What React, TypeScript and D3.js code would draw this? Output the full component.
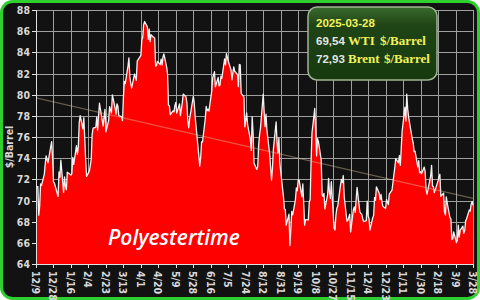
import React from "react";
import * as d3 from "d3";

// WTI daily close, $/barrel
const wtiSeries: [string, number][] = [
  ["2023-12-08", 71.23], ["2023-12-11", 71.32], ["2023-12-12", 68.61], ["2023-12-13", 69.47], ["2023-12-14", 71.58],
  ["2023-12-15", 71.43], ["2023-12-18", 72.47], ["2023-12-19", 73.44], ["2023-12-20", 74.22], ["2023-12-21", 73.89],
  ["2023-12-22", 73.56], ["2023-12-26", 75.57], ["2023-12-27", 74.11], ["2023-12-28", 71.77], ["2023-12-29", 71.65],
  ["2024-01-02", 70.38], ["2024-01-03", 72.70], ["2024-01-04", 72.19], ["2024-01-05", 73.81], ["2024-01-08", 70.77],
  ["2024-01-09", 72.24], ["2024-01-10", 71.37], ["2024-01-11", 71.02], ["2024-01-12", 72.68], ["2024-01-16", 72.40],
  ["2024-01-17", 72.56], ["2024-01-18", 74.08], ["2024-01-19", 73.41], ["2024-01-22", 75.19], ["2024-01-23", 74.37],
  ["2024-01-24", 75.09], ["2024-01-25", 77.36], ["2024-01-26", 78.01], ["2024-01-29", 76.78], ["2024-01-30", 77.82],
  ["2024-01-31", 75.85], ["2024-02-01", 73.82], ["2024-02-02", 72.28], ["2024-02-05", 72.78], ["2024-02-06", 73.31],
  ["2024-02-07", 73.86], ["2024-02-08", 76.22], ["2024-02-09", 76.84], ["2024-02-12", 76.92], ["2024-02-13", 77.87],
  ["2024-02-14", 76.64], ["2024-02-15", 78.03], ["2024-02-16", 79.19], ["2024-02-20", 77.04], ["2024-02-21", 77.91],
  ["2024-02-22", 78.61], ["2024-02-23", 76.49], ["2024-02-26", 77.58], ["2024-02-27", 78.87], ["2024-02-28", 78.54],
  ["2024-02-29", 78.26], ["2024-03-01", 79.97], ["2024-03-04", 78.74], ["2024-03-05", 78.15], ["2024-03-06", 79.13],
  ["2024-03-07", 78.93], ["2024-03-08", 78.01], ["2024-03-11", 77.93], ["2024-03-12", 77.56], ["2024-03-13", 79.72],
  ["2024-03-14", 81.26], ["2024-03-15", 81.04], ["2024-03-18", 82.72], ["2024-03-19", 83.47], ["2024-03-20", 81.68],
  ["2024-03-21", 81.07], ["2024-03-22", 80.63], ["2024-03-25", 81.95], ["2024-03-26", 81.62], ["2024-03-27", 81.35],
  ["2024-03-28", 83.17], ["2024-04-01", 83.71], ["2024-04-02", 85.15], ["2024-04-03", 85.43], ["2024-04-04", 86.59],
  ["2024-04-05", 86.91], ["2024-04-08", 86.43], ["2024-04-09", 85.23], ["2024-04-10", 86.21], ["2024-04-11", 85.02],
  ["2024-04-12", 85.66], ["2024-04-15", 85.41], ["2024-04-16", 85.36], ["2024-04-17", 82.69], ["2024-04-18", 82.73],
  ["2024-04-19", 83.14], ["2024-04-22", 82.85], ["2024-04-23", 83.36], ["2024-04-24", 82.81], ["2024-04-25", 83.57],
  ["2024-04-26", 83.85], ["2024-04-29", 82.63], ["2024-04-30", 81.93], ["2024-05-01", 79.00], ["2024-05-02", 78.95],
  ["2024-05-03", 78.11], ["2024-05-06", 78.48], ["2024-05-07", 78.38], ["2024-05-08", 78.99], ["2024-05-09", 79.26],
  ["2024-05-10", 78.26], ["2024-05-13", 79.12], ["2024-05-14", 78.02], ["2024-05-15", 78.63], ["2024-05-16", 79.23],
  ["2024-05-17", 80.06], ["2024-05-20", 79.80], ["2024-05-21", 79.26], ["2024-05-22", 77.57], ["2024-05-23", 76.87],
  ["2024-05-24", 77.72], ["2024-05-28", 79.83], ["2024-05-29", 79.23], ["2024-05-30", 77.91], ["2024-05-31", 76.99],
  ["2024-06-03", 74.22], ["2024-06-04", 73.25], ["2024-06-05", 74.07], ["2024-06-06", 75.55], ["2024-06-07", 75.53],
  ["2024-06-10", 77.74], ["2024-06-11", 78.90], ["2024-06-12", 78.50], ["2024-06-13", 78.62], ["2024-06-14", 78.45],
  ["2024-06-17", 80.33], ["2024-06-18", 81.57], ["2024-06-20", 82.17], ["2024-06-21", 80.73], ["2024-06-24", 81.63],
  ["2024-06-25", 80.83], ["2024-06-26", 80.90], ["2024-06-27", 81.74], ["2024-06-28", 81.54], ["2024-07-01", 83.38],
  ["2024-07-02", 82.81], ["2024-07-03", 83.88], ["2024-07-05", 83.16], ["2024-07-08", 82.33], ["2024-07-09", 81.41],
  ["2024-07-10", 82.10], ["2024-07-11", 82.62], ["2024-07-12", 82.21], ["2024-07-15", 81.91], ["2024-07-16", 80.76],
  ["2024-07-17", 82.85], ["2024-07-18", 82.82], ["2024-07-19", 80.13], ["2024-07-22", 79.78], ["2024-07-23", 76.96],
  ["2024-07-24", 77.59], ["2024-07-25", 78.28], ["2024-07-26", 77.16], ["2024-07-29", 75.81], ["2024-07-30", 74.73],
  ["2024-07-31", 77.91], ["2024-08-01", 76.31], ["2024-08-02", 73.52], ["2024-08-05", 72.94], ["2024-08-06", 73.20],
  ["2024-08-07", 75.23], ["2024-08-08", 76.19], ["2024-08-09", 76.84], ["2024-08-12", 80.06], ["2024-08-13", 78.35],
  ["2024-08-14", 76.98], ["2024-08-15", 78.16], ["2024-08-16", 76.65], ["2024-08-19", 74.37], ["2024-08-20", 73.17],
  ["2024-08-21", 71.93], ["2024-08-22", 73.01], ["2024-08-23", 74.83], ["2024-08-26", 77.42], ["2024-08-27", 75.53],
  ["2024-08-28", 74.52], ["2024-08-29", 75.91], ["2024-08-30", 73.55], ["2024-09-03", 70.34], ["2024-09-04", 69.20],
  ["2024-09-05", 69.15], ["2024-09-06", 67.67], ["2024-09-09", 68.71], ["2024-09-10", 65.75], ["2024-09-11", 67.31],
  ["2024-09-12", 68.97], ["2024-09-13", 68.65], ["2024-09-16", 70.09], ["2024-09-17", 71.19], ["2024-09-18", 70.91],
  ["2024-09-19", 71.95], ["2024-09-20", 71.92], ["2024-09-23", 70.37], ["2024-09-24", 71.56], ["2024-09-25", 69.69],
  ["2024-09-26", 67.67], ["2024-09-27", 68.18], ["2024-09-30", 68.17], ["2024-10-01", 69.83], ["2024-10-02", 70.10],
  ["2024-10-03", 73.71], ["2024-10-04", 76.40], ["2024-10-07", 78.70], ["2024-10-08", 76.60], ["2024-10-09", 74.20],
  ["2024-10-10", 75.85], ["2024-10-11", 75.56], ["2024-10-14", 73.83], ["2024-10-15", 70.58], ["2024-10-16", 70.39],
  ["2024-10-17", 70.67], ["2024-10-18", 69.22], ["2024-10-21", 70.56], ["2024-10-22", 72.09], ["2024-10-23", 70.77],
  ["2024-10-24", 70.19], ["2024-10-25", 71.78], ["2024-10-28", 67.38], ["2024-10-29", 67.21], ["2024-10-30", 68.61],
  ["2024-10-31", 69.26], ["2024-11-01", 69.49], ["2024-11-04", 71.47], ["2024-11-05", 71.99], ["2024-11-06", 71.69],
  ["2024-11-07", 72.36], ["2024-11-08", 70.38], ["2024-11-11", 68.04], ["2024-11-12", 68.12], ["2024-11-13", 68.43],
  ["2024-11-14", 68.70], ["2024-11-15", 67.02], ["2024-11-18", 69.16], ["2024-11-19", 69.39], ["2024-11-20", 68.87],
  ["2024-11-21", 70.10], ["2024-11-22", 71.24], ["2024-11-25", 68.94], ["2024-11-26", 68.77], ["2024-11-27", 68.72],
  ["2024-11-29", 68.00], ["2024-12-02", 68.10], ["2024-12-03", 69.94], ["2024-12-04", 68.54], ["2024-12-05", 68.30],
  ["2024-12-06", 67.20], ["2024-12-09", 68.37], ["2024-12-10", 68.59], ["2024-12-11", 70.29], ["2024-12-12", 70.02],
  ["2024-12-13", 71.29], ["2024-12-16", 70.71], ["2024-12-17", 70.08], ["2024-12-18", 70.58], ["2024-12-19", 69.91],
  ["2024-12-20", 69.46], ["2024-12-23", 69.24], ["2024-12-24", 70.10], ["2024-12-26", 69.62], ["2024-12-27", 70.60],
  ["2024-12-30", 70.99], ["2024-12-31", 71.72], ["2025-01-02", 73.13], ["2025-01-03", 73.96], ["2025-01-06", 73.56],
  ["2025-01-07", 74.25], ["2025-01-08", 73.32], ["2025-01-10", 76.57], ["2025-01-13", 78.82], ["2025-01-14", 77.50],
  ["2025-01-15", 80.04], ["2025-01-16", 78.68], ["2025-01-17", 77.88], ["2025-01-21", 75.83], ["2025-01-22", 75.44],
  ["2025-01-23", 74.62], ["2025-01-24", 74.66], ["2025-01-27", 73.17], ["2025-01-28", 73.77], ["2025-01-29", 72.62],
  ["2025-01-30", 72.73], ["2025-01-31", 72.53], ["2025-02-03", 73.16], ["2025-02-04", 72.70], ["2025-02-05", 71.03],
  ["2025-02-06", 70.61], ["2025-02-07", 71.00], ["2025-02-10", 72.32], ["2025-02-11", 73.32], ["2025-02-12", 71.37],
  ["2025-02-13", 71.29], ["2025-02-14", 70.74], ["2025-02-18", 71.85], ["2025-02-19", 72.25], ["2025-02-20", 72.48],
  ["2025-02-21", 70.40], ["2025-02-24", 70.70], ["2025-02-25", 68.93], ["2025-02-26", 68.62], ["2025-02-27", 70.35],
  ["2025-02-28", 69.76], ["2025-03-03", 68.37], ["2025-03-04", 68.26], ["2025-03-05", 66.31], ["2025-03-06", 66.36],
  ["2025-03-07", 67.04], ["2025-03-10", 66.03], ["2025-03-11", 66.25], ["2025-03-12", 67.68], ["2025-03-13", 66.55],
  ["2025-03-14", 67.18], ["2025-03-17", 67.58], ["2025-03-18", 66.90], ["2025-03-19", 67.16], ["2025-03-20", 68.07],
  ["2025-03-21", 68.28], ["2025-03-24", 69.11], ["2025-03-25", 69.00], ["2025-03-26", 69.65], ["2025-03-27", 69.92],
  ["2025-03-28", 69.54],
];

const xDomain = ["2023-12-09", "2025-03-28"];
const yDomain = [64, 88];
const yTicks = [64, 66, 68, 70, 72, 74, 76, 78, 80, 82, 84, 86, 88];
const xTickStepDays = 19;
const trendValues = [79.7, 70.2];
const legendDate = "2025-03-28";
const legendValues = ["69,54", "72,93"];
const legendNames = ["WTI", "Brent"];
const legendUnit = "$/Barrel";
const yTitle = "$/Barrel";
const watermark = "Polyestertime";

const W = 480;
const H = 300;
const M = { left: 36, right: 473, top: 10, bottom: 264 };

export default function App() {
  const parse = d3.utcParse("%Y-%m-%d");
  const data = wtiSeries.map(([d, v]) => ({ date: parse(d) as Date, value: v }));
  const d0 = parse(xDomain[0]) as Date;
  const d1 = parse(xDomain[1]) as Date;

  const x = d3.scaleUtc().domain([d0, d1]).range([M.left, M.right]);
  const y = d3.scaleLinear().domain(yDomain).range([M.bottom, M.top]);

  const xTicks = d3.utcDay.every(1)!.range(d0, d3.utcDay.offset(d1, 1)).filter(
    (d) => Math.round((+d - +d0) / 86400000) % xTickStepDays === 0
  );
  const fmt = d3.utcFormat("%-m/%-d");

  const area = d3
    .area<{ date: Date; value: number }>()
    .x((d) => x(d.date))
    .y0(y(yDomain[0]))
    .y1((d) => y(d.value));
  const line = d3
    .line<{ date: Date; value: number }>()
    .x((d) => x(d.date))
    .y((d) => y(d.value));

  const labelFont = "'DejaVu Sans Condensed', 'Liberation Sans', sans-serif";
  const legendSans = "'Liberation Sans', Arial, sans-serif";
  const legendSerif = "'Liberation Serif', 'DejaVu Serif', serif";

  return (
    <svg
      width={W}
      height={H}
      style={{ position: "fixed", left: 0, top: 0, background: "#ffffff" }}
    >
      <defs>
        <clipPath id="plotClip">
          <rect x={M.left} y={M.top - 2} width={M.right - M.left + 2} height={M.bottom - M.top + 2} />
        </clipPath>
        <linearGradient id="legendGrad" x1="0" y1="0" x2="0" y2="1">
          <stop offset="0%" stopColor="#3a6a2c" />
          <stop offset="25%" stopColor="#1f4416" />
          <stop offset="100%" stopColor="#163a0e" />
        </linearGradient>
      </defs>
      <rect x={1.5} y={1.5} width={W - 3} height={H - 3} rx={11} fill="#121212" stroke="#2fcf2f" strokeWidth={3} />

      {/* grid */}
      <g stroke="#b8b8b8" strokeWidth={1} opacity={0.85}>
        {yTicks.map((t) => (
          <line key={"gy" + t} x1={M.left} x2={M.right} y1={Math.round(y(t)) + 0.5} y2={Math.round(y(t)) + 0.5} />
        ))}
        {xTicks.map((t) => (
          <line key={"gx" + +t} x1={Math.round(x(t)) + 0.5} x2={Math.round(x(t)) + 0.5} y1={M.top} y2={M.bottom} />
        ))}
      </g>

      {/* area + line */}
      <g clipPath="url(#plotClip)">
        <path d={area(data) || ""} fill="#ff0000" />
        <path d={line(data) || ""} fill="none" stroke="#f2f2f2" strokeWidth={1.3} strokeLinejoin="round" />
        <line
          x1={x(d0)}
          x2={x(d1)}
          y1={y(trendValues[0])}
          y2={y(trendValues[1])}
          stroke="rgba(215,195,160,0.42)"
          strokeWidth={1.2}
        />
      </g>

      {/* axes */}
      <g stroke="#e0e0e0" strokeWidth={1}>
        <line x1={M.left + 0.5} x2={M.left + 0.5} y1={M.top} y2={M.bottom} />
        <line x1={M.left} x2={M.right} y1={M.bottom + 0.5} y2={M.bottom + 0.5} />
        {yTicks.map((t) => (
          <line key={"ty" + t} x1={M.left - 4} x2={M.left} y1={Math.round(y(t)) + 0.5} y2={Math.round(y(t)) + 0.5} />
        ))}
        {xTicks.map((t) => (
          <line key={"tx" + +t} x1={Math.round(x(t)) + 0.5} x2={Math.round(x(t)) + 0.5} y1={M.bottom} y2={M.bottom + 4} />
        ))}
      </g>

      <g fill="#d8d8d8" fontFamily={labelFont} fontWeight="bold" fontSize={10.5}>
        {yTicks.map((t) => (
          <text key={"ly" + t} x={M.left - 6} y={y(t)} textAnchor="end" dominantBaseline="central">
            {t}
          </text>
        ))}
        {xTicks.map((t) => (
          <text
            key={"lx" + +t}
            x={x(t)}
            y={M.bottom + 7}
            transform={`rotate(90, ${x(t)}, ${M.bottom + 7})`}
            textAnchor="start"
            dominantBaseline="central"
          >
            {fmt(t)}
          </text>
        ))}
        <text
          x={9}
          y={147}
          transform="rotate(-90, 9, 147)"
          textAnchor="middle"
          dominantBaseline="central"
          fontSize={10.5}
        >
          {yTitle}
        </text>
      </g>

      {/* watermark */}
      <text
        x={108}
        y={245}
        fill="#ffffff"
        fontFamily="'Open Sans', 'Noto Sans', sans-serif"
        fontStyle="italic"
        fontWeight={600}
        fontSize={21}
      >
        {watermark}
      </text>

      {/* legend */}
      <g>
        <rect x={308} y={7} width={129} height={73} rx={9} fill="url(#legendGrad)" stroke="#9fb593" strokeWidth={1.5} />
        <text x={316} y={27} fill="#f2f25a" fontFamily={legendSans} fontWeight="bold" fontSize={11.5}>
          {legendDate}
        </text>
        {legendValues.map((v, i) => (
          <g key={"lg" + i}>
            <text x={316} y={45 + i * 18} fill="#e4e4e4" fontFamily={legendSans} fontWeight="bold" fontSize={11.5}>
              {v}
            </text>
            <text x={348} y={45 + i * 18} fill="#f2f25a" fontFamily={legendSerif} fontWeight="bold" fontSize={13}>
              {legendNames[i]}
            </text>
            <text
              x={i === 0 ? 380 : 384}
              y={45 + i * 18}
              fill="#f2f25a"
              fontFamily={legendSerif}
              fontWeight="bold"
              fontSize={13}
            >
              {legendUnit}
            </text>
          </g>
        ))}
      </g>
    </svg>
  );
}
